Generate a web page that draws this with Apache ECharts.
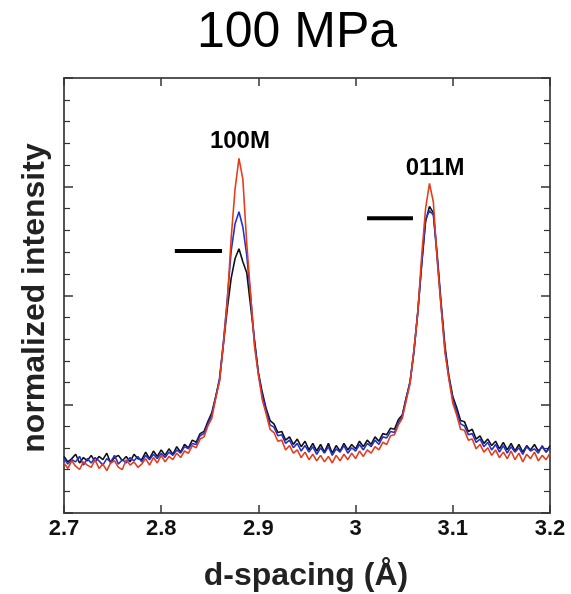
<!DOCTYPE html>
<html><head><meta charset="utf-8">
<script src="https://cdn.jsdelivr.net/npm/echarts@6/dist/echarts.min.js"></script>
<style>html,body{margin:0;padding:0;background:#fff}#c{width:571px;height:594px}</style>
</head><body><div id="c"></div>
<script>
// d-spacing grid: 2.700 .. 3.200 step 0.004
var xStart = 2.700, xStep = 0.004;
var xTicks = ['2.7','2.8','2.9','3','3.1','3.2'];
var black = [0.52,0.47,0.50,0.54,0.46,0.51,0.48,0.53,0.47,0.52,0.49,0.55,0.46,0.51,0.53,0.48,0.52,0.47,0.54,0.50,
0.49,0.56,0.50,0.57,0.52,0.58,0.53,0.59,0.54,0.61,0.56,0.63,0.60,0.67,0.65,0.73,0.75,0.84,0.92,1.07,
1.22,1.55,1.88,2.16,2.34,2.43,2.31,2.21,1.90,1.59,1.29,1.11,0.96,0.85,0.82,0.74,0.75,0.67,0.70,0.63,
0.68,0.61,0.66,0.58,0.64,0.57,0.63,0.56,0.64,0.55,0.62,0.57,0.64,0.58,0.63,0.59,0.66,0.61,0.67,0.63,
0.70,0.66,0.73,0.72,0.78,0.77,0.86,0.90,1.06,1.20,1.48,1.85,2.28,2.68,2.82,2.76,2.37,1.93,1.53,1.26,
1.07,0.97,0.85,0.84,0.75,0.77,0.68,0.71,0.64,0.68,0.62,0.66,0.59,0.65,0.58,0.64,0.57,0.63,0.56,0.62,
0.58,0.63,0.57,0.61,0.56,0.62];
var blue = [0.50,0.45,0.49,0.47,0.52,0.44,0.50,0.46,0.51,0.48,0.44,0.50,0.47,0.53,0.45,0.49,0.46,0.51,0.48,0.52,
0.47,0.53,0.49,0.54,0.50,0.55,0.51,0.56,0.53,0.58,0.55,0.61,0.59,0.64,0.63,0.71,0.73,0.82,0.90,1.06,
1.24,1.57,1.97,2.41,2.66,2.77,2.63,2.37,1.99,1.57,1.28,1.08,0.94,0.81,0.79,0.71,0.72,0.64,0.67,0.60,
0.64,0.57,0.62,0.56,0.61,0.54,0.60,0.55,0.61,0.53,0.59,0.56,0.62,0.55,0.60,0.57,0.63,0.58,0.64,0.61,
0.67,0.63,0.70,0.69,0.75,0.74,0.83,0.89,1.05,1.21,1.49,1.85,2.30,2.70,2.78,2.74,2.34,1.90,1.50,1.24,
1.05,0.93,0.82,0.80,0.72,0.73,0.65,0.68,0.61,0.65,0.58,0.63,0.56,0.62,0.55,0.61,0.56,0.60,0.54,0.61,
0.57,0.59,0.55,0.62,0.56,0.60];
var red = [0.46,0.41,0.48,0.43,0.40,0.47,0.44,0.42,0.49,0.41,0.45,0.39,0.46,0.48,0.42,0.40,0.49,0.44,0.47,0.42,
0.45,0.50,0.44,0.51,0.46,0.53,0.47,0.52,0.49,0.55,0.51,0.57,0.55,0.62,0.60,0.68,0.70,0.80,0.87,1.05,
1.21,1.56,1.94,2.53,2.98,3.26,3.07,2.48,2.01,1.53,1.27,1.04,0.91,0.77,0.74,0.66,0.67,0.58,0.62,0.55,
0.58,0.51,0.56,0.49,0.54,0.48,0.53,0.47,0.52,0.46,0.53,0.48,0.54,0.49,0.55,0.50,0.57,0.52,0.58,0.55,
0.61,0.58,0.65,0.63,0.71,0.72,0.81,0.87,1.03,1.19,1.50,1.84,2.37,2.80,3.03,2.86,2.32,1.89,1.47,1.23,
1.01,0.90,0.77,0.76,0.67,0.68,0.59,0.63,0.56,0.60,0.53,0.58,0.51,0.56,0.50,0.57,0.49,0.55,0.47,0.54,
0.50,0.56,0.48,0.53,0.49,0.55];
// horizontal marker bars [x0, x1, y]
var bar1 = [2.814, 2.8626, 2.41];
var bar2 = [3.0117, 3.059, 2.71];
// peak labels
var peakNames = ['100M', '011M'];
var peakX = [2.881, 3.0817];
var peakY = [3.42, 3.17];

function pairs(arr){ return arr.map(function(v,i){ return [+(xStart + i*xStep).toFixed(3), v]; }); }

var chart = echarts.init(document.getElementById('c'), null, {renderer:'canvas'});
var axisLineStyle = {color:'#555', width:2};
var FONT = '"Liberation Sans", Arial, sans-serif';
var option = {
  animation:false,
  backgroundColor:'#fff',
  grid:{left:64, right:21, top:78, bottom:81, containLabel:false},
  xAxis:[{
    type:'value', position:'bottom', min:2.7, max:3.2, interval:0.1,
    axisLine:{show:true, onZero:false, lineStyle:axisLineStyle},
    axisTick:{show:true, inside:true, length:8, lineStyle:{color:'#333', width:1.5}},
    axisLabel:{show:true, margin:5, fontFamily:FONT, fontWeight:'bold', fontSize:22, color:'#111',
      formatter:function(v){ var s = (+v).toFixed(1); var k = xTicks.indexOf(String(+s)); return k>=0 ? xTicks[k] : String(+s); }},
    splitLine:{show:false}
  },{
    type:'value', position:'top', min:2.7, max:3.2, interval:0.1,
    axisLine:{show:true, onZero:false, lineStyle:axisLineStyle},
    axisTick:{show:true, inside:true, length:8, lineStyle:{color:'#333', width:1.5}},
    axisLabel:{show:false}, splitLine:{show:false}
  }],
  yAxis:[{
    type:'value', position:'left', min:0, max:4, interval:1,
    axisLine:{show:true, onZero:false, lineStyle:axisLineStyle},
    axisTick:{show:true, inside:true, length:9, lineStyle:{color:'#333', width:1.5}},
    minorTick:{show:true, splitNumber:5, length:6, lineStyle:{color:'#333', width:1.2}},
    axisLabel:{show:false}, splitLine:{show:false}
  },{
    type:'value', position:'right', min:0, max:4, interval:1,
    axisLine:{show:true, onZero:false, lineStyle:axisLineStyle},
    axisTick:{show:true, inside:true, length:9, lineStyle:{color:'#333', width:1.5}},
    minorTick:{show:true, splitNumber:5, length:6, lineStyle:{color:'#333', width:1.2}},
    axisLabel:{show:false}, splitLine:{show:false}
  }],
  series:[
    {type:'line', data:pairs(black), showSymbol:false, lineStyle:{color:'#111', width:1.6}, itemStyle:{color:'#111'}, z:2},
    {type:'line', data:pairs(blue), showSymbol:false, lineStyle:{color:'#2230d0', width:1.6}, itemStyle:{color:'#2230d0'}, z:3},
    {type:'line', data:pairs(red), showSymbol:false, lineStyle:{color:'#e63c1a', width:1.6}, itemStyle:{color:'#e63c1a'}, z:4},
    {type:'line', data:[[bar1[0],bar1[2]],[bar1[1],bar1[2]]], showSymbol:false, lineStyle:{color:'#000', width:4}, z:5},
    {type:'line', data:[[bar2[0],bar2[2]],[bar2[1],bar2[2]]], showSymbol:false, lineStyle:{color:'#000', width:4}, z:5},
    {type:'scatter', symbolSize:0, z:6, itemStyle:{opacity:1, color:'#000'},
     data:peakNames.map(function(n,i){ return {value:[peakX[i], peakY[i]], name:n}; }),
     label:{show:true, position:'inside', formatter:function(p){ return p.name; },
       fontFamily:FONT, fontWeight:'bold', fontSize:24, color:'#000', opacity:1, textBorderWidth:0}}
  ],
  graphic:[
    {type:'text', x:297, y:33, style:{text:'100 MPa', fontFamily:FONT, fontSize:50, fill:'#000', align:'center', verticalAlign:'middle'}},
    {type:'text', x:306, y:576, style:{text:'d-spacing (Å)', fontFamily:FONT, fontSize:32, fontWeight:'bold', fill:'#222', align:'center', verticalAlign:'middle'}},
    {type:'text', x:35, y:298, rotation:Math.PI/2, style:{text:'normalized intensity', fontFamily:FONT, fontSize:32, fontWeight:'bold', fill:'#222', align:'center', verticalAlign:'middle'}}
  ]
};
chart.setOption(option);
</script>
</body></html>
